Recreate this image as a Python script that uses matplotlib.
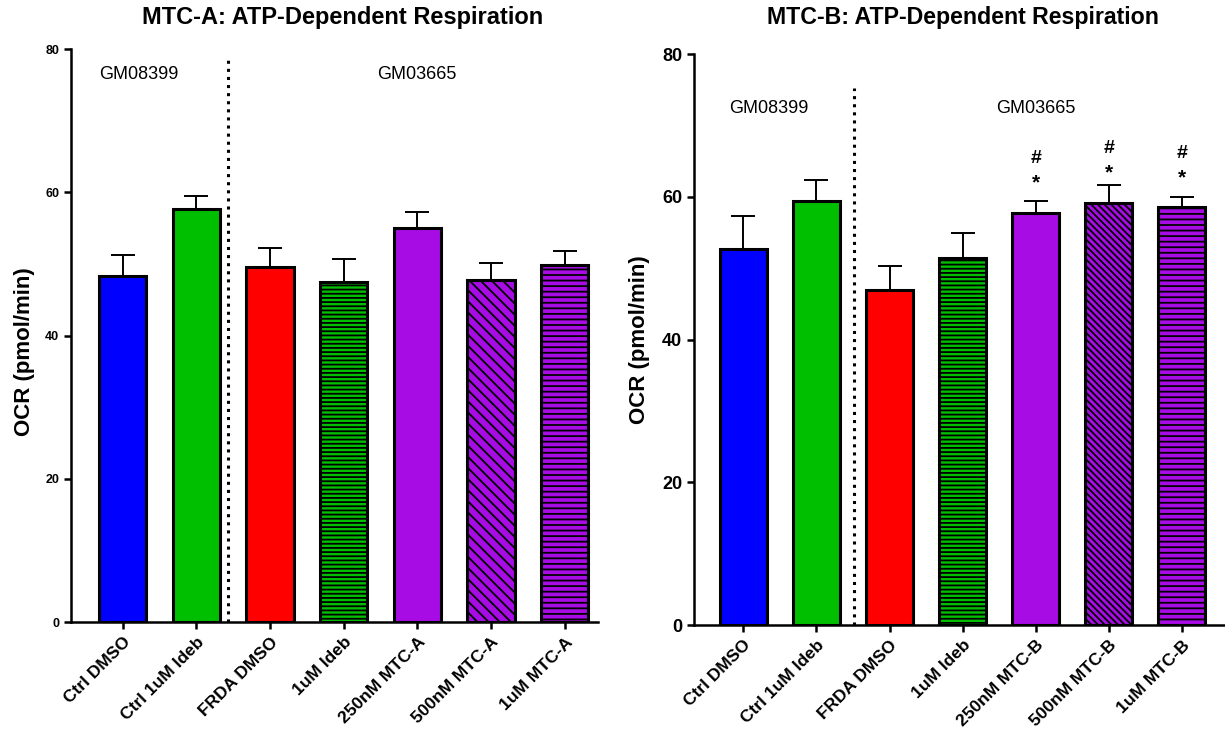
import matplotlib
matplotlib.use('Agg')
import matplotlib.pyplot as plt

plt.rcParams['font.family'] = ['Liberation Sans', 'DejaVu Sans']

# data
labels_a = ['Ctrl DMSO', 'Ctrl 1uM Ideb', 'FRDA DMSO', '1uM Ideb',
            '250nM MTC-A', '500nM MTC-A', '1uM MTC-A']
means_a = [48.3, 57.6, 49.5, 47.5, 55.0, 47.7, 49.8]
sem_a = [2.9, 1.9, 2.7, 3.2, 2.2, 2.4, 2.0]

labels_b = ['Ctrl DMSO', 'Ctrl 1uM Ideb', 'FRDA DMSO', '1uM Ideb',
            '250nM MTC-B', '500nM MTC-B', '1uM MTC-B']
means_b = [52.7, 59.4, 47.0, 51.4, 57.7, 59.1, 58.5]
sem_b = [4.6, 2.9, 3.3, 3.5, 1.7, 2.5, 1.5]
marks_b = [False, False, False, False, True, True, True]

colors = ['#0000ff', '#00bf00', '#ff0000', '#00bf00', '#a60ce3', '#a60ce3', '#a60ce3']
hatches_a = [None, None, None, '----', None, '\\\\\\', '---']
hatches_b = [None, None, None, '----', None, '\\\\\\\\\\', '---']

fig = plt.figure(figsize=(12.25, 7.33), dpi=100)
plt.rcParams['hatch.linewidth'] = 1.3


def draw(ax, labels, means, sem, hatches, xlim, sep_x, sep_top, tick_fs, group_x, group_y, group_fs):
    x = list(range(len(labels)))
    for i in x:
        ax.bar(i, means[i], width=0.645, color=colors[i], edgecolor='black',
               linewidth=2.2, hatch=hatches[i], zorder=2)
    ax.errorbar(x, means, yerr=[[0] * len(sem), sem], fmt='none', ecolor='black',
                elinewidth=1.4, capsize=8.8, capthick=1.4, zorder=1)
    ax.plot([sep_x, sep_x], [0, sep_top], color='black', linestyle=':', linewidth=2.2, zorder=3)
    ax.text(group_x, group_y, 'GM08399', ha='center', va='center', fontsize=group_fs)
    ax.text(4.0, group_y, 'GM03665', ha='center', va='center', fontsize=group_fs)
    ax.set_xlim(*xlim)
    ax.set_ylim(0, 80)
    ax.set_yticks([0, 20, 40, 60, 80])
    ax.set_xticks(x)
    ax.set_xticklabels(labels, rotation=45, ha='right', rotation_mode='anchor',
                       fontsize=12.5, fontweight='bold')
    for t in ax.get_yticklabels():
        t.set_fontsize(tick_fs)
        t.set_fontweight('bold')
    ax.spines['top'].set_visible(False)
    ax.spines['right'].set_visible(False)
    ax.spines['left'].set_linewidth(1.8)
    ax.spines['bottom'].set_linewidth(1.8)
    ax.tick_params(axis='both', width=1.8, length=5)
    ax.tick_params(axis='x', pad=4)


ax1 = fig.add_axes([0.058, 0.1514, 0.43, 0.7817])
draw(ax1, labels_a, means_a, sem_a, hatches_a, (-0.70, 6.45), 1.43, 78.5, 9, 0.22, 76.5, 13)

ax2 = fig.add_axes([0.5664, 0.1473, 0.4336, 0.779])
draw(ax2, labels_b, means_b, sem_b, hatches_b, (-0.677, 6.59), 1.51, 75.3, 13, 0.35, 72.3, 13)
for i, m in enumerate(marks_b):
    if m:
        ax2.text(i, means_b[i] + 4.2, '*', ha='center', va='center', fontsize=15, fontweight='bold')
        ax2.text(i, means_b[i] + 7.6, '#', ha='center', va='center', fontsize=14, fontweight='bold')

fig.text(0.280, 0.976, 'MTC-A: ATP-Dependent Respiration', ha='center', va='center',
         fontsize=17, fontweight='bold')
fig.text(0.786, 0.976, 'MTC-B: ATP-Dependent Respiration', ha='center', va='center',
         fontsize=16.7, fontweight='bold')
fig.text(0.02, 0.52, 'OCR (pmol/min)', rotation=90, ha='center', va='center',
         fontsize=16, fontweight='bold')
fig.text(0.522, 0.536, 'OCR (pmol/min)', rotation=90, ha='center', va='center',
         fontsize=16, fontweight='bold')

fig.savefig('out.png', dpi=100)
